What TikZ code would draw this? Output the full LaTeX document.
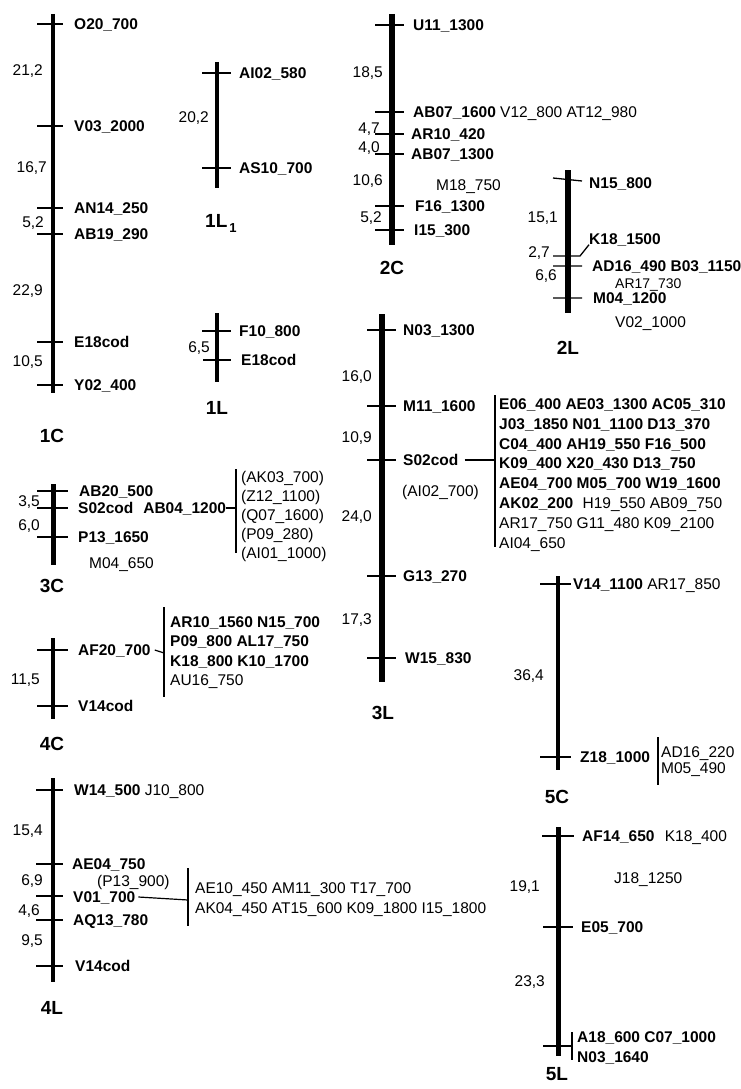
\documentclass[tikz,border=0pt]{standalone}
\usepackage{fontspec}
\setmainfont{Liberation Sans}

\begin{document}
\begin{tikzpicture}[x=1pt,y=-1pt,
  bar/.style={line width=4.5pt},
  tick/.style={line width=1.3pt},
  lnk/.style={line width=1.2pt},
  mk/.style={anchor=west, inner sep=0pt, text height=11pt, text depth=0pt, font=\fontsize{15.5}{19.8}\selectfont\bfseries},
  mkr/.style={mk, font=\fontsize{15.5}{19.8}\selectfont},
  dist/.style={anchor=east, inner sep=0pt, text height=11pt, text depth=0pt, font=\fontsize{15.5}{18}\selectfont},
  chrom/.style={anchor=base, inner sep=0pt, font=\fontsize{19}{22}\selectfont\bfseries},
  grp/.style={anchor=north west, inner sep=0pt, align=left, font=\fontsize{15.5}{19.8}\selectfont}]

\useasboundingbox (0,0) rectangle (741,1089);

% 1C
\draw[bar] (53,14) -- (53,393);
\draw[tick] (37,24) -- (63,24) (37,126) -- (63,126) (37,208) -- (63,208)
  (37,234) -- (63,234) (37,342) -- (63,342) (37,385) -- (63,385);
\node[mk] (O20-1C) at (74,24) {O20\_700};
\node[mk] (V03-1C) at (74,126) {V03\_2000};
\node[mk] (AN14-1C) at (74,208) {AN14\_250};
\node[mk] (AB19-1C) at (74,234) {AB19\_290};
\node[mk] (E18-1C) at (74,342) {E18cod};
\node[mk] (Y02-1C) at (74,385) {Y02\_400};
\node[dist] (d1-1C) at (43,70) {21,2};
\node[dist] (d2-1C) at (47,167) {16,7};
\node[dist] (d3-1C) at (44,222) {5,2};
\node[dist] (d4-1C) at (43,290) {22,9};
\node[dist] (d5-1C) at (43,361) {10,5};
\node[chrom] (name-1C) at (52,442) {1C};

% 1L1
\draw[bar, line width=4pt] (217,62) -- (217,188);
\draw[tick] (202,73) -- (231,73) (202,168) -- (231,168);
\node[mk] (AI02-1L1) at (239,73) {AI02\_580};
\node[mk] (AS10-1L1) at (239,168) {AS10\_700};
\node[dist] (d1-1L1) at (209,117) {20,2};
\node[chrom, anchor=base west] (name-1L1) at (205,227) {1L\hspace{2pt}\raisebox{-5pt}{\fontsize{13}{13}\selectfont 1}};

% 1L
\draw[bar, line width=4pt] (217,313) -- (217,382);
\draw[tick] (202,331) -- (231,331) (203,360) -- (231,360);
\node[mk] (F10-1L) at (239,331) {F10\_800};
\node[mk] (E18-1L) at (241,360) {E18cod};
\node[dist] (d1-1L) at (210,347) {6,5};
\node[chrom] (name-1L) at (217,414) {1L};

% 2C
\draw[bar, line width=5.3pt] (392,14) -- (392,245);
\draw[tick] (375,25) -- (404,25) (375,112) -- (404,112) (375,134) -- (404,134)
  (375,154) -- (404,154) (375,206) -- (404,206) (375,230) -- (404,230);
\node[mk] (U11-2C) at (413,25) {U11\_1300};
\node[mk] (AB07a-2C) at (413,112) {AB07\_1600 {\mdseries V12\_800 AT12\_980}};
\node[mk] (AR10-2C) at (411,134) {AR10\_420};
\node[mk] (AB07b-2C) at (411,154) {AB07\_1300};
\node[mkr] (M18-2C) at (436,185) {M18\_750};
\node[mk] (F16-2C) at (415,206) {F16\_1300};
\node[mk] (I15-2C) at (414,230) {I15\_300};
\node[dist] (d1-2C) at (383,72) {18,5};
\node[dist] (d2-2C) at (380,128) {4,7};
\node[dist] (d3-2C) at (380,147) {4,0};
\node[dist] (d4-2C) at (383,180) {10,6};
\node[dist] (d5-2C) at (382,217) {5,2};
\node[chrom] (name-2C) at (392,274) {2C};

% 2L
\draw[bar, line width=6pt] (568,170) -- (568,313);
\draw[tick] (553,178) -- (582,181) (553,266) -- (582,266) (553,298) -- (582,298);
\node[mk] (N15-2L) at (589,183) {N15\_800};
\node[mk] (K18-2L) at (589,239) {K18\_1500};
\draw[tick] (553,256) -- (580,256) -- (K18-2L.south west);
\node[mk] (AD16-2L) at (592,266) {AD16\_490 B03\_1150};
\node[mkr, font=\fontsize{14}{16}\selectfont] (AR17-2L) at (615,283) {AR17\_730};
\node[mk] (M04-2L) at (593,298) {M04\_1200};
\node[mkr] (V02-2L) at (615,322) {V02\_1000};
\node[dist] (d1-2L) at (558,217) {15,1};
\node[dist] (d2-2L) at (550,252) {2,7};
\node[dist] (d3-2L) at (557,275) {6,6};
\node[chrom] (name-2L) at (568,354) {2L};

% 3L
\draw[bar, line width=6pt] (382,314) -- (382,682);
\draw[tick] (367,330) -- (396,330) (367,406) -- (396,406) (367,460) -- (396,460)
  (367,576) -- (396,576) (367,658) -- (396,658);
\node[mk] (N03-3L) at (403,330) {N03\_1300};
\node[mk] (M11-3L) at (403,406) {M11\_1600};
\node[mk] (S02-3L) at (403,460) {S02cod};
\node[mkr] (AI02-3L) at (402,491) {(AI02\_700)};
\node[mk] (G13-3L) at (403,576) {G13\_270};
\node[mk] (W15-3L) at (405,658) {W15\_830};
\node[dist] (d1-3L) at (372,376) {16,0};
\node[dist] (d2-3L) at (372,437) {10,9};
\node[dist] (d3-3L) at (372,516) {24,0};
\node[dist] (d4-3L) at (372,619) {17,3};
\node[chrom] (name-3L) at (383,719) {3L};
\coordinate (br-3L) at (495,460);
\draw[lnk] ([xshift=6pt]S02-3L.east) -- (br-3L);
\draw[lnk] (495,395) -- (495,547);
\node[grp, font=\fontsize{15.5}{19.8}\selectfont\bfseries] (grp-3L) at (499,398.5)
  {E06\_400 AE03\_1300 AC05\_310\\
   J03\_1850 N01\_1100 D13\_370\\
   C04\_400 AH19\_550 F16\_500\\
   K09\_400 X20\_430 D13\_750\\
   AE04\_700 M05\_700 W19\_1600\\
   AK02\_200\hspace{5pt} {\mdseries H19\_550 AB09\_750}\\
   {\mdseries AR17\_750 G11\_480 K09\_2100}\\
   {\mdseries AI04\_650}};

% 3C
\draw[bar, line width=5pt] (53,484) -- (53,565);
\draw[tick] (37,491) -- (68,491) (37,508) -- (68,508) (37,537) -- (68,537);
\node[mk] (AB20-3C) at (79,491) {AB20\_500};
\node[mk] (S02-3C) at (78,508) {S02cod\hspace{10pt}AB04\_1200};
\node[mk] (P13-3C) at (78,537) {P13\_1650};
\node[mkr] (M04-3C) at (89,563) {M04\_650};
\node[dist] (d1-3C) at (40,501) {3,5};
\node[dist] (d2-3C) at (40,525) {6,0};
\node[chrom] (name-3C) at (52,592) {3C};
\coordinate (br-3C) at (236,508);
\draw[lnk] (S02-3C.east) -- (br-3C);
\draw[lnk] (236,469) -- (236,553);
\node[grp, font=\fontsize{15.5}{19}\selectfont] (grp-3C) at (241,471.5)
  {(AK03\_700)\\ (Z12\_1100)\\ (Q07\_1600)\\ (P09\_280)\\ (AI01\_1000)};

% 4C
\draw[bar] (53,638) -- (53,719);
\draw[tick] (37,650) -- (68,650) (37,706) -- (68,706);
\node[mk] (AF20-4C) at (78,650) {AF20\_700};
\node[mk] (V14-4C) at (78,706) {V14cod};
\node[dist] (d1-4C) at (40,679) {11,5};
\node[chrom] (name-4C) at (52,750) {4C};
\coordinate (br-4C) at (164,653);
\draw[lnk] ([xshift=4pt]AF20-4C.east) -- (br-4C);
\draw[lnk] (164,607) -- (164,697);
\node[grp, font=\fontsize{15.5}{19.3}\selectfont\bfseries] (grp-4C) at (170,616.5)
  {AR10\_1560 N15\_700\\ P09\_800 AL17\_750\\ K18\_800 K10\_1700\\ {\mdseries AU16\_750}};

% 4L
\draw[bar] (53,778) -- (53,982);
\draw[tick] (36,790) -- (63,790) (36,864) -- (63,864) (36,896) -- (63,896)
  (36,920) -- (63,920) (36,966) -- (63,966);
\node[mk] (W14-4L) at (74,790) {W14\_500 {\mdseries J10\_800}};
\node[mk] (AE04-4L) at (72,864) {AE04\_750};
\node[mkr] (P13-4L) at (97,881) {(P13\_900)};
\node[mk] (V01-4L) at (73,897) {V01\_700};
\node[mk] (AQ13-4L) at (73,920) {AQ13\_780};
\node[mk] (V14-4L) at (75,966) {V14cod};
\node[dist] (d1-4L) at (43,830) {15,4};
\node[dist] (d2-4L) at (43,880) {6,9};
\node[dist] (d3-4L) at (40,910) {4,6};
\node[dist] (d4-4L) at (43,940) {9,5};
\node[chrom] (name-4L) at (52,1014) {4L};
\coordinate (br-4L) at (188,900);
\draw[lnk] ([xshift=3pt]V01-4L.east) -- (br-4L);
\draw[lnk] (188,868) -- (188,926);
\node[grp] (grp-4L) at (195,882.5)
  {AE10\_450 AM11\_300 T17\_700\\ AK04\_450 AT15\_600 K09\_1800 I15\_1800};

% 5C
\draw[bar, line width=4pt] (558,576) -- (558,770);
\draw[tick] (540,584) -- (571,584) (540,757) -- (571,757);
\node[mk] (V14-5C) at (573,584) {V14\_1100 {\mdseries AR17\_850}};
\node[mk] (Z18-5C) at (580,757) {Z18\_1000};
\node[dist] (d1-5C) at (544,675) {36,4};
\node[chrom] (name-5C) at (557,803) {5C};
\draw[lnk] (658,737) -- (658,785);
\node[grp, font=\fontsize{15.5}{16}\selectfont] (grp-5C) at (661,746.5)
  {AD16\_220\\ M05\_490};

% 5L
\draw[bar, line width=5pt] (558,827) -- (558,1056);
\draw[tick] (542,836) -- (574,836) (543,927) -- (573,927);
\coordinate (br-5L) at (572,1046);
\draw[tick] (543,1046) -- (br-5L);
\draw[lnk] (572,1032) -- (572,1060);
\node[mk] (AF14-5L) at (582,836) {AF14\_650\hspace{6pt} {\mdseries K18\_400}};
\node[mkr] (J18-5L) at (614,878) {J18\_1250};
\node[mk] (E05-5L) at (581,927) {E05\_700};
\node[grp, font=\fontsize{15.5}{20}\selectfont\bfseries] (grp-5L) at (577,1031.5)
  {A18\_600 C07\_1000\\ N03\_1640};
\node[dist] (d1-5L) at (540,886) {19,1};
\node[dist] (d2-5L) at (545,981) {23,3};
\node[chrom] (name-5L) at (557,1080) {5L};

\end{tikzpicture}
\end{document}
